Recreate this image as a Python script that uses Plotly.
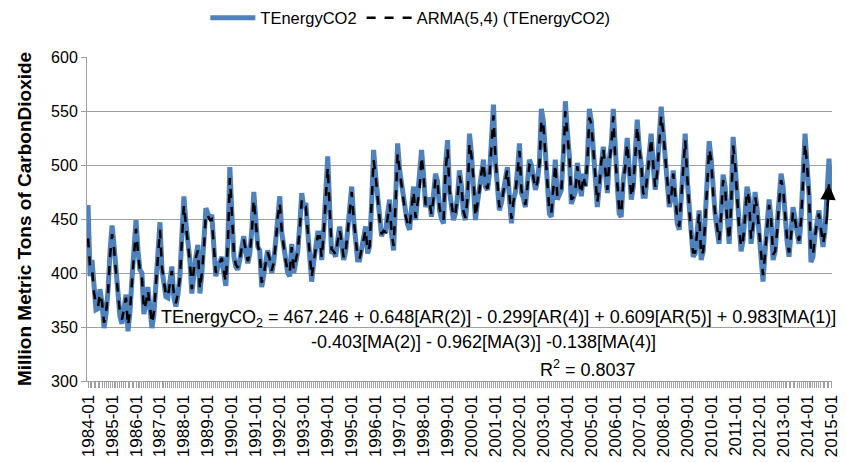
import plotly.graph_objects as go

# Monthly values, Jan 1984 .. Jan 2015 (million metric tons CO2)
actual_values = [
    463, 397, 412, 380, 366, 367, 385, 372, 349, 362, 384, 420,  # 1984
    444, 425, 400, 378, 360, 353, 368, 380, 346, 364, 395, 425,  # 1985
    449, 420, 403, 400, 362, 372, 387, 368, 349, 362, 390, 420,  # 1986
    447, 403, 392, 378, 377, 392, 406, 377, 369, 380, 397, 435,  # 1987
    471, 446, 430, 412, 381, 406, 415, 426, 381, 400, 425, 460,  # 1988
    455, 450, 454, 425, 397, 405, 410, 415, 400, 388, 430, 498,  # 1989
    455, 415, 406, 403, 412, 425, 434, 420, 409, 418, 440, 475,  # 1990
    445, 424, 421, 387, 398, 410, 421, 412, 400, 410, 430, 455,  # 1991
    471, 437, 424, 410, 400, 397, 427, 400, 412, 420, 445, 474,  # 1992
    460, 465, 440, 412, 392, 410, 425, 437, 437, 412, 440, 480,  # 1993
    508, 458, 418, 420, 415, 430, 443, 428, 412, 420, 440, 460,  # 1994
    480, 449, 430, 412, 412, 425, 430, 443, 418, 425, 465, 514,  # 1995
    490, 468, 450, 434, 440, 437, 455, 468, 435, 421, 470, 520,  # 1996
    495, 480, 468, 452, 445, 440, 460, 480, 449, 471, 480, 514,  # 1997
    490, 461, 468, 468, 452, 470, 492, 485, 458, 450, 446, 500,  # 1998
    523, 475, 464, 449, 455, 470, 495, 480, 455, 449, 470, 529,  # 1999
    510, 486, 449, 465, 477, 495, 505, 480, 477, 492, 520, 556,  # 2000
    502, 480, 458, 465, 477, 490, 498, 470, 446, 468, 475, 495,  # 2001
    520, 474, 470, 461, 480, 505, 500, 490, 477, 485, 502, 552,  # 2002
    540, 511, 480, 455, 452, 480, 505, 468, 472, 477, 510, 559,  # 2003
    530, 508, 464, 470, 475, 502, 480, 471, 492, 480, 505, 552,  # 2004
    540, 517, 490, 461, 480, 505, 517, 495, 474, 505, 520, 552,  # 2005
    502, 480, 455, 452, 486, 500, 525, 495, 468, 480, 510, 542,  # 2006
    515, 500, 471, 471, 490, 510, 529, 500, 477, 495, 520, 554,  # 2007
    530, 505, 480, 461, 470, 495, 470, 446, 440, 470, 500, 529,  # 2008
    486, 455, 430, 415, 418, 440, 458, 412, 420, 450, 490, 522,  # 2009
    505, 470, 455, 440, 427, 455, 491, 480, 445, 427, 465, 526,  # 2010
    500, 468, 440, 420, 430, 455, 480, 470, 427, 445, 475, 460,  # 2011
    434, 415, 392, 420, 440, 468, 450, 412, 420, 440, 470, 492,  # 2012
    480, 446, 430, 415, 435, 461, 450, 435, 427, 450, 490, 529,  # 2013
    500, 471, 410, 415, 435, 450, 458, 440, 424, 440, 470, 506,  # 2014
    472,                                                         # 2015
]

arma_values = [
    432, 405, 405, 382, 370, 369, 381, 373, 354, 363, 382, 415,  # 1984
    436, 422, 401, 380, 363, 357, 369, 377, 351, 365, 392, 420,  # 1985
    441, 418, 403, 396, 366, 372, 384, 369, 353, 364, 388, 417,  # 1986
    440, 405, 393, 380, 378, 391, 402, 380, 372, 381, 396, 430,  # 1987
    463, 444, 428, 410, 385, 404, 414, 421, 385, 400, 423, 455,  # 1988
    453, 449, 450, 423, 400, 405, 410, 414, 401, 392, 428, 488,  # 1989
    456, 418, 408, 405, 412, 424, 431, 420, 411, 418, 438, 468,  # 1990
    446, 425, 419, 391, 399, 410, 419, 413, 402, 410, 428, 452,  # 1991
    465, 438, 424, 411, 402, 400, 424, 403, 412, 420, 442, 467,  # 1992
    460, 461, 440, 414, 396, 410, 424, 434, 434, 414, 438, 474,  # 1993
    498, 458, 422, 420, 417, 429, 440, 429, 414, 420, 438, 458,  # 1994
    475, 450, 431, 415, 413, 424, 431, 440, 420, 425, 460, 505,  # 1995
    490, 468, 450, 436, 439, 438, 453, 464, 437, 425, 466, 511,  # 1996
    495, 479, 467, 453, 446, 442, 459, 476, 451, 467, 479, 508,  # 1997
    490, 463, 466, 466, 454, 469, 488, 484, 460, 452, 449, 494,  # 1998
    515, 476, 465, 452, 456, 469, 490, 480, 457, 451, 469, 520,  # 1999
    508, 486, 452, 464, 476, 493, 502, 482, 478, 490, 515, 546,  # 2000
    505, 481, 461, 465, 476, 488, 496, 472, 450, 466, 475, 493,  # 2001
    513, 476, 470, 463, 479, 500, 499, 490, 478, 484, 500, 542,  # 2002
    536, 510, 482, 458, 455, 478, 501, 471, 472, 477, 507, 550,  # 2003
    530, 507, 468, 470, 476, 499, 482, 473, 490, 481, 503, 544,  # 2004
    538, 516, 491, 465, 480, 503, 515, 496, 477, 502, 518, 545,  # 2005
    505, 482, 459, 455, 484, 499, 520, 496, 470, 480, 507, 536,  # 2006
    515, 500, 474, 472, 489, 507, 525, 501, 479, 493, 517, 546,  # 2007
    530, 505, 482, 464, 470, 492, 472, 450, 443, 468, 497, 523,  # 2008
    489, 458, 434, 419, 419, 438, 455, 416, 420, 447, 485, 515,  # 2009
    505, 472, 456, 442, 430, 453, 486, 479, 448, 430, 462, 518,  # 2010
    500, 470, 443, 424, 430, 452, 476, 469, 431, 444, 471, 460,  # 2011
    438, 418, 398, 418, 437, 463, 451, 417, 420, 438, 466, 486,  # 2012
    479, 449, 432, 419, 434, 457, 450, 437, 430, 449, 485, 520,  # 2013
    500, 472, 418, 417, 433, 447, 455, 441, 427, 438, 452, 482,  # 2014
]

start_year = 1984
months = [f"{start_year + k // 12}-{k % 12 + 1:02d}-01" for k in range(len(actual_values))]
arma_months = months[:len(arma_values)]

series_names = ["TEnergyCO2", "ARMA(5,4) (TEnergyCO2)"]
y_title = "Million Metric Tons of CarbonDioxide"
eq_line1 = "TEnergyCO<sub>2</sub> = 467.246 + 0.648[AR(2)] - 0.299[AR(4)] + 0.609[AR(5)] + 0.983[MA(1)]"
eq_line2 = "-0.403[MA(2)] - 0.962[MA(3)] -0.138[MA(4)]"
eq_line3 = "R<sup>2</sup> = 0.8037"

FONT = "Liberation Sans, Arial, sans-serif"

fig = go.Figure()
fig.add_trace(go.Scatter(
    x=months, y=actual_values, mode="lines", name=series_names[0],
    line=dict(color="#4F81BD", width=5), hoverinfo="skip",
))
fig.add_trace(go.Scatter(
    x=arma_months, y=arma_values, mode="lines", name=series_names[1],
    line=dict(color="black", width=2.5, dash="dash"),
    hoverinfo="skip",
))

# arrow head at the end of the ARMA line (points from previous to last value)
fig.add_annotation(
    x=arma_months[-1], y=arma_values[-1], xref="x", yref="y",
    ax=arma_months[-2], ay=arma_values[-2], axref="x", ayref="y",
    showarrow=True, arrowhead=2, arrowsize=1.4, arrowwidth=2.2,
    arrowcolor="black", text="", standoff=0,
)

fig.update_layout(
    width=846, height=463,
    margin=dict(l=87, r=14, t=57, b=82, autoexpand=False),
    paper_bgcolor="white", plot_bgcolor="white",
    font=dict(family=FONT, size=15, color="black"),
    showlegend=True,
    legend=dict(orientation="h", x=0.434, xanchor="center", y=1.12, yanchor="middle",
                font=dict(size=16.5), bgcolor="rgba(0,0,0,0)", itemwidth=45),
)
fig.update_xaxes(
    type="date", range=["1983-12-16", "2015-01-16"],
    tickmode="linear", tick0="1984-01-01", dtick="M12", tickformat="%Y-%m",
    tickangle=-90, tickfont=dict(size=17),
    showgrid=False, showline=True, linecolor="#A0A0A0", linewidth=1,
    ticks="outside", ticklen=6, tickcolor="#A0A0A0",
    minor=dict(dtick="M1", ticks="outside", ticklen=6, tickcolor="#A0A0A0", showgrid=False),
)
fig.update_yaxes(
    range=[300, 600], dtick=50, tick0=300,
    showgrid=True, gridcolor="#A0A0A0", gridwidth=1,
    showline=True, linecolor="#A0A0A0", linewidth=1,
    ticks="outside", ticklen=5, tickcolor="#A0A0A0",
    tickfont=dict(size=16), zeroline=False,
    title=dict(text=f"<b>{y_title}</b>", font=dict(size=19), standoff=14),
)

for txt, xp, yp in [(eq_line1, 0.553, 0.194), (eq_line2, 0.532, 0.120), (eq_line3, 0.672, 0.040)]:
    fig.add_annotation(text=txt, xref="paper", yref="paper", x=xp, y=yp,
                       xanchor="center", yanchor="middle", showarrow=False,
                       font=dict(size=18, family=FONT, color="black"))

fig.write_html("out.html")
